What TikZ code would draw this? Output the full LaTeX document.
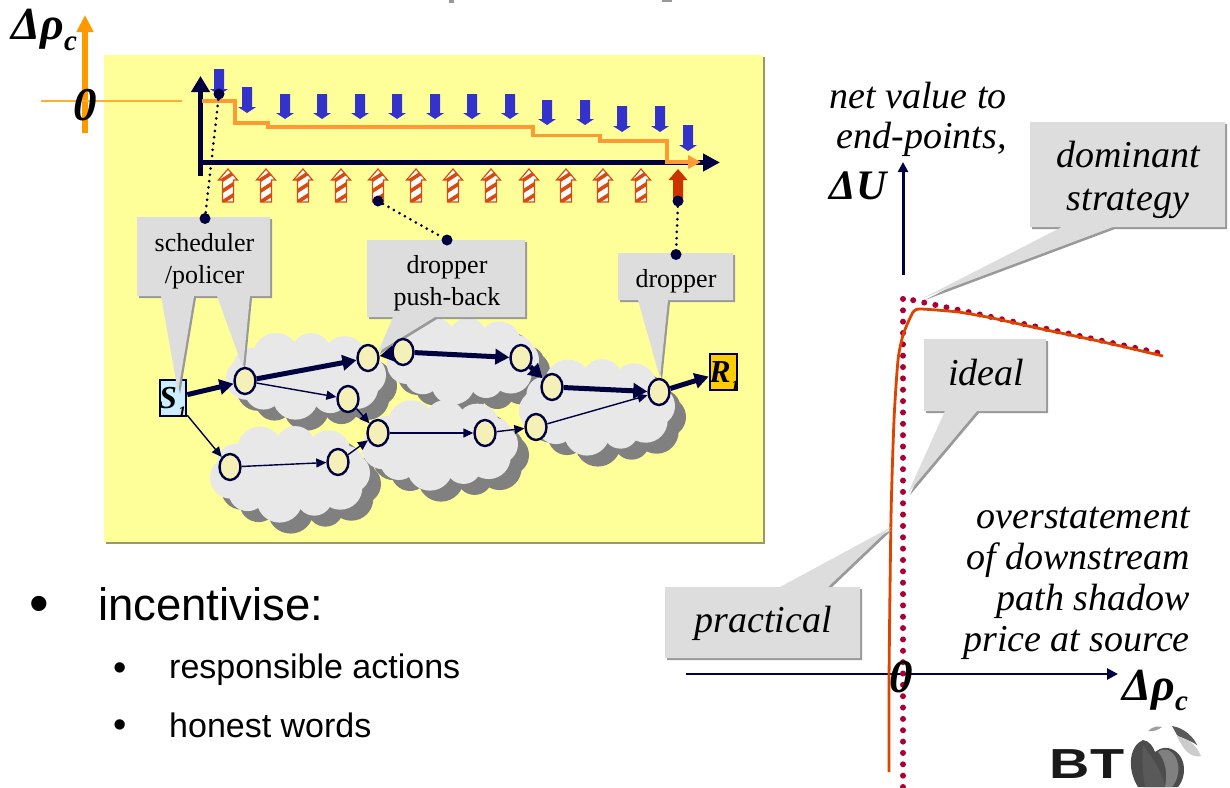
\documentclass[tikz,border=0pt]{standalone}
\usepackage{fontspec}
\setmainfont{Liberation Serif}
\newfontfamily\arialf{Liberation Sans}
\usetikzlibrary{arrows.meta,shapes.geometric}
\definecolor{navy}{HTML}{000040}
\definecolor{paleyellow}{HTML}{FFFF99}
\definecolor{boxedge}{HTML}{999966}
\definecolor{calloutgray}{HTML}{DDDDDD}
\definecolor{calloutedge}{HTML}{999999}
\definecolor{cloudgray}{HTML}{E8E8E8}
\definecolor{cloudshadow}{HTML}{808080}
\definecolor{routerfill}{HTML}{F5F0B8}
\definecolor{bluearrowc}{HTML}{3333CC}
\definecolor{redarrowc}{HTML}{D84A10}
\definecolor{solidred}{HTML}{CC3300}
\definecolor{priceorange}{HTML}{FF9933}
\definecolor{bigorange}{HTML}{FF9900}
\definecolor{maroondot}{HTML}{AA0033}
\definecolor{curvered}{HTML}{DD4400}
\definecolor{srcfill}{HTML}{CCEEFF}
\definecolor{rcvfill}{HTML}{FFCC00}
\newcommand{\fsz}[1]{\fontsize{#1}{#1}\selectfont}
% cloud: ring of lumps round a central ellipse
\newcommand{\cloudpaint}[6]{%
  \fill[#6] (#1,#2) ellipse ({#3+8} and {#4+8});
  \foreach \t/\dr in {0/0,33/2,66/-2,100/3,135/-1,170/1,205/-2,240/3,275/0,310/2,340/-2} {
    \fill[#6] ({#1+#3*cos(\t)},{#2+#4*sin(\t)}) circle ({(#5+\dr)*1pt});
  }
}
\newcommand{\cloudmaker}[5]{%
  \begin{scope}[shift={(11,11)}]\cloudpaint{#1}{#2}{#3}{#4}{#5}{cloudshadow}\end{scope}
  \cloudpaint{#1}{#2}{#3}{#4}{#5}{cloudgray}
}
\newcommand{\callout}[1]{%
  \fill[calloutedge] [shift={(2,2)}] #1 -- cycle;
  \fill[calloutgray] #1 -- cycle;
}
\newcommand{\stripedarrow}[1]{%
  \begin{scope}[shift={(#1,0)}]
    \begin{scope}
      \clip (-5.5,202) -- (-5.5,180) -- (-9.5,180) -- (0,169) -- (9.5,180) -- (5.5,180) -- (5.5,202) -- cycle;
      \fill[white] (-10,165) rectangle (10,205);
      \foreach \yy in {181,192,203} {\draw[redarrowc,line width=3.6pt] (-7,\yy) -- (7,\yy-9);}
    \end{scope}
    \draw[redarrowc,line width=1.2pt] (-5.5,202) -- (-5.5,180) -- (-9.5,180) -- (0,169) -- (9.5,180) -- (5.5,180) -- (5.5,202) -- cycle;
  \end{scope}
}
\newcommand{\downarrowblue}[3]{%
  \fill[bluearrowc] (#1-5,#2) -- (#1+5,#2) -- (#1+5,#3-6) -- (#1+9,#3-6) -- (#1,#3) -- (#1-9,#3-6) -- (#1-5,#3-6) -- cycle;
}
\tikzset{
  router/.style={ellipse,draw=navy,fill=routerfill,line width=2.4pt,minimum width=21pt,minimum height=26pt,inner sep=0pt},
  thickedge/.style={navy,line width=5pt,-{Triangle[length=14pt,width=15pt]}},
  thinedge/.style={navy,line width=1.4pt,-{Triangle[length=10pt,width=9pt]}},
  dotmark/.style={circle,fill=navy,minimum size=11pt,inner sep=0pt},
  dotline/.style={navy,line width=3pt,line cap=round,dash pattern=on 0pt off 6.3pt},
  maroonline/.style={maroondot,line width=6pt,line cap=round,dash pattern=on 0pt off 11.35pt},
  serifsmall/.style={font=\fsz{26},text=black,align=center,inner sep=0pt},
  serifital/.style={font=\fsz{38}\itshape,text=black,align=center,inner sep=0pt},
  bigmath/.style={font=\fsz{46}\bfseries\itshape,text=black,inner sep=0pt},
  csubscript/.style={font=\fsz{29}\bfseries\itshape,text=black,anchor=base west,inner sep=0pt},
  sub1/.style={font=\fsz{16}\bfseries\itshape,text=black,inner sep=0pt},
  bullettext/.style={font=\arialf\fsz{45.5},text=black,anchor=west,inner sep=0pt},
  subbullet/.style={font=\arialf\fsz{34},text=black,anchor=west,inner sep=0pt},
  navyaxis/.style={navy,line width=3pt,-{Triangle[length=10pt,width=10pt]}},
}
\begin{document}
\begin{tikzpicture}[x=1pt,y=-1pt]
\useasboundingbox (0,0) rectangle (1230,787);
\fill[white] (0,0) rectangle (1230,787);
% cut-off title fragments
\fill[gray!80] (449,0) rectangle (454,2.5);
\fill[gray!80] (662,0) rectangle (672,2);
% yellow panel
\fill[boxedge] (106,57) rectangle (765,544);
\fill[paleyellow] (104,55) rectangle (763,542);
% clouds
\cloudmaker{306}{375}{60}{22}{20}
\cloudmaker{290}{473}{60}{27}{20}
\cloudmaker{463}{360}{57}{23}{19}
\cloudmaker{440}{444}{58}{24}{20}
\cloudmaker{597}{406}{58}{27}{20}
% end-point boxes
\node[draw=navy,fill=srcfill,line width=2.6pt,minimum width=26pt,minimum height=36pt,inner sep=0pt] (S) at (173,398) {};
\node[draw=navy,fill=rcvfill,line width=2.6pt,minimum width=27pt,minimum height=36pt,inner sep=0pt] (R) at (723.5,372) {};
% panel callouts
\callout{(137,217) -- (270,217) -- (270,296) -- (250,296) -- (243,368) -- (217,296) -- (194,296) -- (178,392) -- (161,296) -- (137,296)}
\callout{(367,240) -- (525,240) -- (525,317) -- (435,317) -- (378,352) -- (393,317) -- (367,317)}
\callout{(618,253) -- (733,253) -- (733,300) -- (668,300) -- (660,378) -- (638,300) -- (618,300)}
\node[serifsmall] (tsched) at (204.5,261) {scheduler\\[6pt]/policer};
\node[serifsmall] (tpush) at (447,283) {dropper\\[6pt]push-back};
\node[serifsmall] (tdrop) at (676,281) {dropper};
% routers
\node[router] (n1) at (245,381) {};
\node[router] (n2) at (368,358) {};
\node[router] (n3) at (348,399) {};
\node[router] (n4) at (378,433) {};
\node[router] (n5) at (230,467) {};
\node[router] (n6) at (338,462) {};
\node[router] (n7) at (403,352) {};
\node[router] (n8) at (521,358) {};
\node[router] (n9) at (552,387) {};
\node[router] (n10) at (659,392) {};
\node[router] (n11) at (536,427) {};
\node[router] (n12) at (485,433) {};
% links
\draw[thickedge] (S) -- (n1);
\draw[thickedge] (n1) -- (n2);
\draw[thickedge] (n7) -- (n2);
\draw[thickedge] (n7) -- (n8);
\draw[thickedge] (n8) -- (n9);
\draw[thickedge] (n9) -- (n10);
\draw[thickedge] (n10) -- (R);
\draw[thinedge] (S) -- (n5);
\draw[thinedge] (n1) -- (n3);
\draw[thinedge] (n3) -- (n4);
\draw[thinedge] (n5) -- (n6);
\draw[thinedge] (n6) -- (n4);
\draw[thinedge] (n4) -- (n12);
\draw[thinedge] (n12) -- (n11);
\draw[thinedge] (n11) -- (n10);
% end-point labels
\node[font=\fsz{32}\bfseries\itshape,inner sep=0pt] (Slabel) at (168,398) {S};
\node[sub1] (Ssub) at (182,412) {1};
\node[font=\fsz{32}\bfseries\itshape,inner sep=0pt] (Rlabel) at (720,372) {R};
\node[sub1] (Rsub) at (735,386) {1};
% small-scale axes
\foreach \x/\a/\b in {247/87/113,285/94/119,322/94/119,360/94/119,397/94/119,435/94/119,472/94/119,510/94/119,547/100/125,585/100/125,622/106/132,660/106/132,688/125/151}{\downarrowblue{\x}{\a}{\b}}
\downarrowblue{219}{69}{95}
\coordinate (axo) at (198,162.5);
\coordinate (axb) at (200.5,176);
\coordinate (axt) at (200.5,76);
\coordinate (axr) at (720,162.5);
\draw[navy,line width=5pt,-{Triangle[length=16pt,width=18pt]}] (axb) -- (axt);
\draw[navy,line width=5pt,-{Triangle[length=17pt,width=17pt]}] (axo) -- (axr);
\foreach \x in {228,266,303,341,378,416,453,491,529,566,603,641}{\stripedarrow{\x}}
\fill[solidred] (673,202) -- (673,180) -- (668.5,180) -- (678,169) -- (687.5,180) -- (683,180) -- (683,202) -- cycle;
% price line
\coordinate (pstart) at (202,101);
\coordinate (pend) at (701,162);
\draw[priceorange,line width=3.6pt,-{Triangle[length=13pt,width=13pt]}] (pstart) -- (235,101) -- (235,123) -- (268,123) -- (268,127) -- (533,127) -- (533,135.5) -- (600,135.5) -- (600,141) -- (667,141) -- (667,162) -- (pend);
% annotation dots
\node[dotmark] (d1) at (219,94) {};
\node[dotmark] (d2) at (205,218.5) {};
\node[dotmark] (d3) at (378,201) {};
\node[dotmark] (d4) at (447,240) {};
\node[dotmark] (d5) at (678,201) {};
\node[dotmark] (d6) at (676,254.5) {};
\draw[dotline] (d1) -- (d2);
\draw[dotline] (d3) -- (d4);
\draw[dotline] (d5) -- (d6);
% left orange axis
\coordinate (oa1) at (85,133);
\coordinate (oa2) at (85,15);
\coordinate (ol1) at (41,101);
\coordinate (ol2) at (182,101);
\draw[bigorange,line width=6.5pt,-{Triangle[length=17pt,width=16pt]}] (oa1) -- (oa2);
\draw[bigorange!80!white,line width=1.2pt] (ol1) -- (ol2);
\node[bigmath,font=\fsz{47}\bfseries\itshape] (zeroa) at (85,105) {0};
\node[bigmath,anchor=base west] (drhoa) at (11,39) {Δρ};
\node[csubscript] (csuba) at (64,50) {c};
% bullets
\node[font=\arialf\fsz{56},inner sep=0pt] (b1) at (39,609) {•};
\node[bullettext] (t1) at (98,604) {incentivise:};
\node[font=\arialf\fsz{38},inner sep=0pt] (b2) at (120,672) {•};
\node[subbullet] (t2) at (169,670) {responsible actions};
\node[font=\arialf\fsz{38},inner sep=0pt] (b3) at (120,729) {•};
\node[subbullet] (t3) at (169,725) {honest words};
% right chart
\coordinate (ya) at (903,275);
\coordinate (yb) at (903,162);
\coordinate (xa) at (686,674);
\coordinate (xb) at (1118,674);
\draw[navyaxis] (ya) -- (yb);
\draw[navy,line width=2.8pt,-{Triangle[length=11pt,width=11pt]}] (xa) -- (xb);
\coordinate (idA) at (903,787);
\coordinate (idB) at (903,298);
\coordinate (idC) at (1159,353);
\draw[maroonline] (idA) -- (idB) -- (idC);
\draw[curvered,line width=2.8pt] plot[smooth,tension=0.4] coordinates {(889,772) (889,680) (891,517) (894,420) (898,360) (903,335) (910,318) (914,311) (921,309) (958,312) (992,318) (1037,328) (1103,342) (1163,356)};
% chart callouts
\callout{(1030,122) -- (1225,122) -- (1225,227) -- (1113,227) -- (923,298) -- (1062,227) -- (1030,227)}
\callout{(924,339) -- (1046,339) -- (1046,411) -- (977,411) -- (908,493) -- (945,411) -- (924,411)}
\callout{(665,587) -- (780,587) -- (891,527) -- (828,587) -- (860,587) -- (860,658) -- (665,658)}
\node[serifital] (tdom) at (1128,180) {dominant\\[5pt]strategy};
\node[serifital] (tideal) at (986,373) {ideal};
\node[serifital] (tprac) at (763,623) {practical};
\node[serifital,align=right,anchor=north east] (tnet) at (1007,82) {net value to\\[2pt]end-points,};
\node[bigmath,font=\fsz{42}\bfseries\itshape] (tdu) at (858,186) {ΔU};
\node[serifital,align=right,anchor=north east] (tover) at (1190,507) {overstatement\\[3pt]of downstream\\[3pt]path shadow\\[3pt]price at source};
\node[bigmath,font=\fsz{47}\bfseries\itshape] (zerob) at (901,677) {0};
\node[bigmath,anchor=base west] (drhob) at (1122,700) {Δρ};
\node[csubscript] (csubb) at (1175,710) {c};
% BT logo
\node[font=\arialf\fsz{42}\bfseries,xscale=1.33,transform shape,inner sep=0pt,text=black!90] (bt) at (1087,764) {BT};
\fill[gray!60!black] (1143,740) .. controls (1130,745) and (1126,768) .. (1138,787) -- (1178,787) .. controls (1188,775) and (1186,752) .. (1168,748) .. controls (1162,747) and (1158,750) .. (1155,752) .. controls (1153,746) and (1149,741) .. (1143,740) -- cycle;
\fill[gray!70!black] (1143,745) .. controls (1150,755) and (1162,770) .. (1165,787) -- (1145,787) .. controls (1142,770) and (1142,755) .. (1143,745) -- cycle;
\fill[gray] (1168,750) .. controls (1180,755) and (1182,775) .. (1172,787) -- (1165,787) .. controls (1168,772) and (1165,760) .. (1158,752) .. controls (1160,750) and (1164,749) .. (1168,750) -- cycle;
\fill[gray!75] (1148,731) .. controls (1153,726) and (1158,726) .. (1162,727) .. controls (1158,730) and (1153,732) .. (1148,731) -- cycle;
\fill[gray!70!black] (1172,726) .. controls (1185,728) and (1194,738) .. (1197,745) .. controls (1190,740) and (1180,738) .. (1177,735) .. controls (1175,732) and (1174,729) .. (1172,726) -- cycle;
\fill[gray!40] (1177,736) .. controls (1185,738) and (1195,742) .. (1201,756) .. controls (1192,758) and (1184,752) .. (1177,736) -- cycle;
\end{tikzpicture}
\end{document}
